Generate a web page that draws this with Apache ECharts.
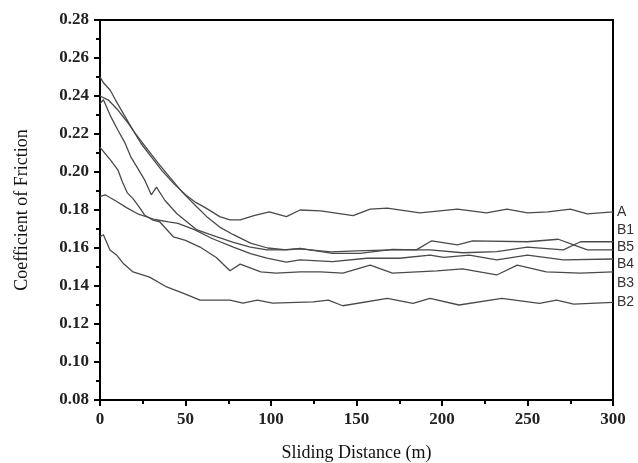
<!DOCTYPE html>
<html>
<head>
<meta charset="utf-8">
<title>Coefficient of Friction</title>
<script src="https://cdn.jsdelivr.net/npm/echarts@6/dist/echarts.min.js"></script>
<style>
  html, body { margin: 0; padding: 0; background: #fff; }
  #chart { width: 638px; height: 463px; }
</style>
</head>
<body>
<div id="chart"></div>
<script>
// sliding distance (m) / coefficient of friction
var aDist = [0, 2, 6, 9, 13.5, 18, 24, 30, 36, 43, 50, 56, 62, 70, 76, 82, 90, 99, 109, 117, 129, 148, 158, 168, 187, 209, 226, 238, 250, 262, 275, 285, 300];
var aCof  = [0.250, 0.247, 0.243, 0.238, 0.231, 0.224, 0.215, 0.208, 0.201, 0.194, 0.188, 0.184, 0.181, 0.1765, 0.1748, 0.1748, 0.177, 0.179, 0.1765, 0.180, 0.1795, 0.177, 0.1805, 0.181, 0.1785, 0.1805, 0.1785, 0.1805, 0.1785, 0.179, 0.1805, 0.178, 0.179];

var b1Dist = [0, 4.7, 10.5, 16.4, 20.5, 28, 34, 41, 48.5, 56.7, 63, 70, 78, 88, 98, 109, 117, 135, 150, 171, 193, 212, 232, 250, 271, 281, 300];
var b1Cof  = [0.240, 0.238, 0.2326, 0.2258, 0.2205, 0.2116, 0.2047, 0.197, 0.189, 0.1816, 0.176, 0.171, 0.167, 0.1626, 0.160, 0.159, 0.1595, 0.158, 0.1585, 0.159, 0.159, 0.1575, 0.1581, 0.1605, 0.159, 0.1633, 0.1633];

var b5Dist = [0, 2, 6.4, 10.5, 14.6, 18, 22, 26, 30, 33, 38, 45, 56.7, 68, 78, 88, 97.6, 107, 117, 136, 152, 171, 185, 194, 209, 218, 250, 268, 277, 285, 300];
var b5Cof  = [0.236, 0.238, 0.229, 0.222, 0.2153, 0.208, 0.202, 0.196, 0.188, 0.192, 0.185, 0.178, 0.1695, 0.166, 0.163, 0.1605, 0.159, 0.159, 0.1598, 0.1572, 0.1572, 0.1593, 0.159, 0.1638, 0.1616, 0.1638, 0.1633, 0.1646, 0.1616, 0.159, 0.159];

var b4Dist = [0, 3, 8.8, 16, 22, 32, 40, 45.6, 55.5, 65.5, 78, 88, 97.6, 109, 117, 136, 156, 175, 193, 201, 216, 232, 250, 271, 300];
var b4Cof  = [0.187, 0.188, 0.185, 0.181, 0.178, 0.175, 0.1737, 0.173, 0.1695, 0.165, 0.1605, 0.157, 0.1547, 0.1526, 0.1537, 0.1528, 0.1546, 0.1546, 0.1563, 0.1551, 0.1563, 0.1537, 0.1563, 0.1537, 0.1542];

var b3Dist = [0, 6.4, 10.5, 13, 16, 19.3, 23.4, 26, 31, 35, 43, 50, 58.5, 68, 76, 82, 94, 103, 117, 129, 142, 158, 171, 197, 212, 232, 244, 261, 281, 300];
var b3Cof  = [0.213, 0.206, 0.201, 0.195, 0.189, 0.186, 0.181, 0.1774, 0.1747, 0.1737, 0.1658, 0.164, 0.1605, 0.155, 0.148, 0.1515, 0.1474, 0.1468, 0.1474, 0.1474, 0.1468, 0.151, 0.1468, 0.148, 0.149, 0.1458, 0.151, 0.1474, 0.1468, 0.1474];

var b2Dist = [0, 2, 5.8, 10, 13.5, 19.3, 29, 39, 48.5, 58.5, 76, 83.6, 92, 101, 124.6, 133.5, 142, 168, 183, 193, 210, 235, 257, 267, 277, 300];
var b2Cof  = [0.166, 0.167, 0.159, 0.156, 0.152, 0.1474, 0.1447, 0.1395, 0.1363, 0.1326, 0.1326, 0.131, 0.1326, 0.131, 0.1316, 0.1326, 0.1296, 0.1335, 0.1309, 0.1335, 0.130, 0.1335, 0.1309, 0.1326, 0.1305, 0.1314];

var seriesNames = ['A', 'B1', 'B5', 'B4', 'B3', 'B2'];
var xTicks = [0, 50, 100, 150, 200, 250, 300];
var yTicks = [0.08, 0.10, 0.12, 0.14, 0.16, 0.18, 0.20, 0.22, 0.24, 0.26, 0.28];

var allDist = [aDist, b1Dist, b5Dist, b4Dist, b3Dist, b2Dist];
var allCof = [aCof, b1Cof, b5Cof, b4Cof, b3Cof, b2Cof];
// vertical nudge of the right-hand labels so they stack like the original
var labelShift = [0, -12, -3, 5, 11, 0];

function pairs(xs, ys) {
  var out = [];
  for (var i = 0; i < xs.length; i++) {
    out.push([xs[i], ys[i]]);
  }
  return out;
}

var series = [];
for (var i = 0; i < seriesNames.length; i++) {
  series.push({
    name: seriesNames[i],
    type: 'line',
    data: pairs(allDist[i], allCof[i]),
    symbol: 'none',
    smooth: false,
    lineStyle: { color: '#4a4a4a', width: 1.3 },
    endLabel: {
      show: true,
      formatter: '{a}',
      distance: 4,
      offset: [0, labelShift[i]],
      color: '#333',
      fontFamily: 'Liberation Sans',
      fontSize: 14
    },
    animation: false
  });
}

var serif = 'Liberation Serif';
var myChart = echarts.init(document.getElementById('chart'));
var option = {
  backgroundColor: '#fff',
  animation: false,
  grid: {
    left: 100,
    right: 25,
    top: 20,
    bottom: 63,
    containLabel: false,
    outerBoundsMode: 'none',
    show: true,
    borderColor: '#000',
    borderWidth: 2
  },
  xAxis: {
    type: 'value',
    min: xTicks[0],
    max: xTicks[xTicks.length - 1],
    interval: 50,
    name: 'Sliding Distance (m)',
    nameLocation: 'middle',
    nameGap: 44,
    nameTextStyle: { fontFamily: serif, fontSize: 18, color: '#111' },
    axisLine: { lineStyle: { color: '#000', width: 2 } },
    axisTick: { show: true, length: 6, lineStyle: { color: '#000', width: 2 } },
    minorTick: { show: true, splitNumber: 2, length: 4, lineStyle: { color: '#000', width: 2 } },
    axisLabel: { fontFamily: serif, fontWeight: 'bold', fontSize: 17, color: '#222', margin: 11 },
    splitLine: { show: false }
  },
  yAxis: {
    type: 'value',
    min: yTicks[0],
    max: yTicks[yTicks.length - 1],
    interval: 0.02,
    name: 'Coefficient of Friction',
    nameLocation: 'middle',
    nameRotate: 90,
    nameGap: 69,
    nameTextStyle: { fontFamily: serif, fontSize: 18, color: '#111' },
    axisLine: { show: true, lineStyle: { color: '#000', width: 2 } },
    axisTick: { show: true, length: 6, lineStyle: { color: '#000', width: 2 } },
    minorTick: { show: true, splitNumber: 2, length: 4, lineStyle: { color: '#000', width: 2 } },
    axisLabel: {
      fontFamily: serif, fontWeight: 'bold', fontSize: 17, color: '#222', margin: 11,
      formatter: function (v) { return v.toFixed(2); }
    },
    splitLine: { show: false }
  },
  series: series
};
myChart.setOption(option);
</script>
</body>
</html>
